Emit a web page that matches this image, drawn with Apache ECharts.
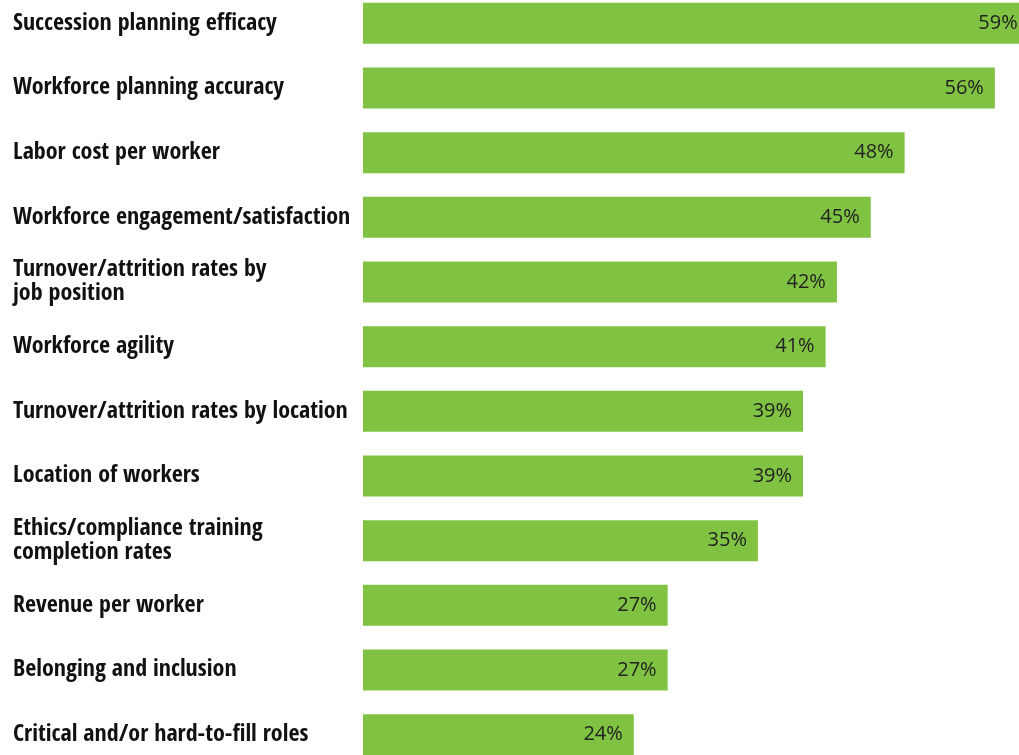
<!DOCTYPE html>
<html><head><meta charset="utf-8">
<script src="https://cdn.jsdelivr.net/npm/echarts@6/dist/echarts.min.js"></script>
<style>html,body{margin:0;padding:0;background:#fff}#c{width:1019px;height:755px}</style>
</head><body><div id="c"></div>
<script>
const categories = [
  "Succession planning efficacy",
  "Workforce planning accuracy",
  "Labor cost per worker",
  "Workforce engagement/satisfaction",
  "Turnover/attrition rates by\njob position",
  "Workforce agility",
  "Turnover/attrition rates by location",
  "Location of workers",
  "Ethics/compliance training\ncompletion rates",
  "Revenue per worker",
  "Belonging and inclusion",
  "Critical and/or hard-to-fill roles"
];
const values = [59, 56, 48, 45, 42, 41, 39, 39, 35, 27, 27, 24];

const chart = echarts.init(document.getElementById('c'));
chart.setOption({
  animation: false,
  grid: { left: 363, top: -9, width: 677, height: 776, containLabel: false, outerBoundsMode: 'none' },
  xAxis: { type: 'value', min: 0, max: 60, show: false },
  yAxis: {
    type: 'category', inverse: true, data: categories,
    axisLine: { show: false }, axisTick: { show: false },
    axisLabel: {
      align: 'left', margin: 350,
      fontFamily: '"Open Sans Condensed", "DejaVu Sans Condensed", "Liberation Sans Narrow", sans-serif',
      fontWeight: 'bold', fontSize: 24, color: '#111', lineHeight: 24
    }
  },
  series: [{
    type: 'bar', data: values, barWidth: 41,
    itemStyle: { color: '#80c342' },
    label: {
      show: true, position: 'insideRight', distance: 11,
      formatter: '{c}%',
      fontFamily: '"Open Sans", sans-serif', fontSize: 20, color: '#222'
    }
  }]
});
</script></body></html>
